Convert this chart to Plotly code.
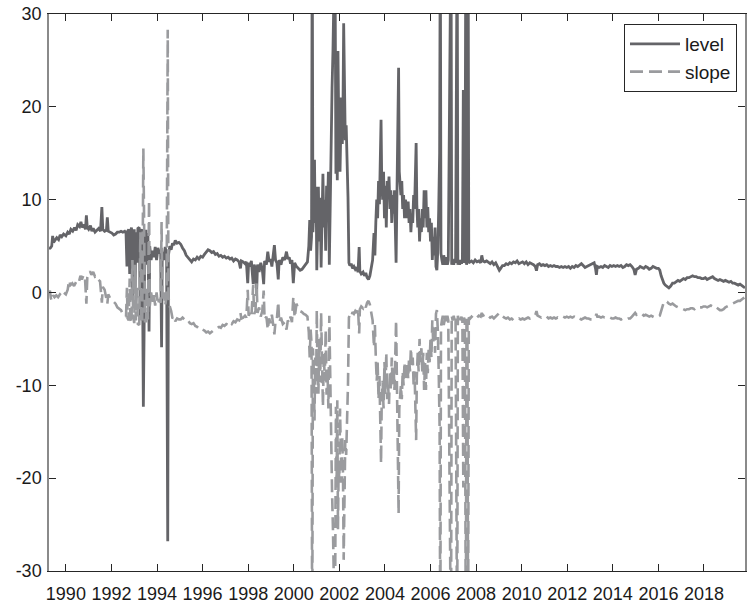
import plotly.graph_objects as go

level_series = [
    (1989.26, 4.7), (1989.32, 4.8), (1989.38, 5.0), (1989.42, 6.1), (1989.46, 5.4), (1989.52, 5.6),
    (1989.60, 5.9), (1989.68, 5.7), (1989.75, 6.2), (1989.82, 6.0), (1989.90, 6.3), (1990.00, 6.1),
    (1990.08, 6.5), (1990.15, 6.3), (1990.22, 6.8), (1990.30, 6.6), (1990.38, 7.0), (1990.45, 6.7),
    (1990.52, 7.3), (1990.60, 7.1), (1990.66, 7.6), (1990.72, 7.0), (1990.80, 7.3), (1990.86, 6.8),
    (1990.90, 8.3), (1990.94, 7.0), (1991.00, 6.8), (1991.08, 7.2), (1991.14, 6.6), (1991.20, 6.9),
    (1991.28, 6.5), (1991.36, 6.7), (1991.44, 6.9), (1991.52, 6.6), (1991.58, 9.2), (1991.62, 6.8),
    (1991.70, 6.6), (1991.78, 6.7), (1991.82, 8.1), (1991.86, 6.6), (1991.94, 6.5), (1992.02, 6.4),
    (1992.10, 6.2), (1992.18, 6.3), (1992.26, 6.5), (1992.34, 6.5), (1992.42, 6.6), (1992.50, 6.5),
    (1992.58, 6.6), (1992.64, 6.4), (1992.68, 2.8), (1992.71, 6.6), (1992.76, 6.8), (1992.80, 2.0),
    (1992.83, 6.5), (1992.88, 7.0), (1992.92, -0.5), (1992.95, 6.2), (1993.00, 6.8), (1993.04, 0.3),
    (1993.07, 6.5), (1993.12, 3.2), (1993.16, 6.9), (1993.22, 7.0), (1993.27, -3.0), (1993.30, 6.5),
    (1993.35, 6.8), (1993.40, -12.3), (1993.43, -5.0), (1993.47, 6.6), (1993.52, 6.6), (1993.56, 3.0),
    (1993.60, 6.4), (1993.65, -4.2), (1993.68, 5.0), (1993.74, 3.5), (1993.80, 4.5), (1993.86, 3.8),
    (1993.92, 4.9), (1993.98, 3.5), (1994.04, 4.8), (1994.10, 4.2), (1994.16, 4.6), (1994.20, -5.9),
    (1994.23, 4.4), (1994.30, 3.5), (1994.36, 4.9), (1994.42, 3.8), (1994.47, -26.8), (1994.50, 4.0),
    (1994.56, 5.0), (1994.62, 4.6), (1994.68, 5.3), (1994.74, 5.1), (1994.80, 5.6), (1994.88, 5.3),
    (1994.96, 5.4), (1995.04, 5.2), (1995.12, 4.8), (1995.20, 4.5), (1995.28, 4.0), (1995.36, 3.8),
    (1995.44, 3.5), (1995.52, 3.3), (1995.60, 3.6), (1995.68, 3.5), (1995.76, 3.8), (1995.84, 3.6),
    (1995.92, 3.9), (1996.00, 3.8), (1996.08, 4.1), (1996.16, 4.4), (1996.24, 4.6), (1996.32, 4.5),
    (1996.40, 4.3), (1996.48, 4.4), (1996.56, 4.1), (1996.64, 4.2), (1996.72, 3.9), (1996.80, 4.0),
    (1996.88, 3.8), (1996.96, 3.9), (1997.04, 3.7), (1997.12, 3.8), (1997.20, 3.6), (1997.28, 3.7),
    (1997.36, 3.4), (1997.44, 3.6), (1997.52, 3.5), (1997.60, 3.3), (1997.66, 2.6), (1997.70, 3.4),
    (1997.78, 3.3), (1997.86, 3.1), (1997.92, 3.3), (1997.98, 1.0), (1998.02, 3.2), (1998.08, 2.8),
    (1998.14, 3.4), (1998.22, 0.9), (1998.26, 3.0), (1998.32, 2.6), (1998.37, 0.0), (1998.41, 3.0),
    (1998.48, 2.2), (1998.55, 3.2), (1998.62, 2.5), (1998.68, 0.9), (1998.72, 3.4), (1998.80, 3.0),
    (1998.86, 4.4), (1998.92, 3.3), (1998.98, 3.6), (1999.04, 2.8), (1999.10, 3.9), (1999.15, 5.1),
    (1999.20, 3.5), (1999.26, 3.2), (1999.32, 1.4), (1999.36, 3.5), (1999.44, 3.0), (1999.52, 3.8),
    (1999.60, 3.5), (1999.68, 4.4), (1999.74, 3.6), (1999.80, 3.8), (1999.86, 3.1), (1999.92, 3.5),
    (1999.98, 1.0), (2000.04, 3.2), (2000.12, 2.8), (2000.20, 2.6), (2000.28, 2.4), (2000.36, 2.5),
    (2000.44, 2.8), (2000.52, 3.0), (2000.60, 3.3), (2000.66, 5.0), (2000.70, 7.8), (2000.74, 4.5),
    (2000.78, 6.0), (2000.81, 40.0), (2000.84, 6.5), (2000.88, 9.0), (2000.91, 14.3), (2000.94, 7.5),
    (2000.98, 11.4), (2001.01, 2.4), (2001.04, 9.0), (2001.08, 11.4), (2001.12, 5.5), (2001.16, 10.2),
    (2001.20, 2.7), (2001.24, 8.5), (2001.28, 12.8), (2001.32, 7.0), (2001.36, 10.0), (2001.40, 4.5),
    (2001.44, 11.5), (2001.48, 9.0), (2001.52, 13.0), (2001.56, 3.0), (2001.60, 10.5), (2001.64, 15.0),
    (2001.68, 22.0), (2001.72, 26.0), (2001.75, 33.0), (2001.78, 35.0), (2001.82, 30.5), (2001.85, 12.8),
    (2001.88, 21.5), (2001.91, 12.1), (2001.94, 26.0), (2001.97, 18.9), (2002.00, 21.0), (2002.03, 13.0),
    (2002.06, 17.0), (2002.10, 21.0), (2002.13, 16.0), (2002.16, 20.0), (2002.19, 29.0), (2002.22, 20.7),
    (2002.26, 16.4), (2002.30, 18.0), (2002.34, 15.0), (2002.38, 10.3), (2002.42, 3.2), (2002.46, 2.9),
    (2002.52, 3.1), (2002.58, 2.6), (2002.64, 2.8), (2002.70, 2.5), (2002.76, 2.7), (2002.82, 2.2),
    (2002.87, 4.9), (2002.90, 2.3), (2002.96, 2.0), (2003.04, 2.2), (2003.10, 1.8), (2003.16, 2.1),
    (2003.22, 1.6), (2003.28, 1.4), (2003.34, 1.8), (2003.40, 2.5), (2003.46, 3.5), (2003.52, 6.4),
    (2003.56, 4.0), (2003.60, 7.5), (2003.64, 10.0), (2003.68, 8.0), (2003.72, 12.0), (2003.76, 9.5),
    (2003.80, 14.5), (2003.83, 18.6), (2003.86, 12.0), (2003.90, 10.0), (2003.94, 13.0), (2003.98, 8.0),
    (2004.02, 11.5), (2004.06, 7.0), (2004.10, 12.0), (2004.14, 10.5), (2004.18, 12.5), (2004.22, 9.0),
    (2004.26, 11.0), (2004.30, 7.5), (2004.34, 10.5), (2004.38, 8.5), (2004.42, 11.0), (2004.46, 7.0),
    (2004.49, 3.2), (2004.52, 9.0), (2004.56, 15.0), (2004.60, 24.2), (2004.63, 13.0), (2004.66, 11.8),
    (2004.70, 10.5), (2004.74, 12.0), (2004.78, 9.0), (2004.82, 10.5), (2004.86, 8.0), (2004.90, 10.0),
    (2004.94, 9.5), (2004.98, 8.0), (2005.02, 9.8), (2005.06, 7.5), (2005.10, 9.0), (2005.14, 6.5),
    (2005.18, 8.5), (2005.22, 7.5), (2005.26, 10.5), (2005.30, 9.0), (2005.34, 12.0), (2005.37, 16.1),
    (2005.40, 9.5), (2005.44, 7.0), (2005.48, 9.0), (2005.52, 5.5), (2005.56, 8.0), (2005.60, 6.5),
    (2005.64, 9.0), (2005.68, 7.0), (2005.72, 11.0), (2005.76, 8.0), (2005.80, 11.0), (2005.84, 7.0),
    (2005.88, 9.2), (2005.92, 6.5), (2005.96, 8.0), (2006.00, 5.5), (2006.04, 7.5), (2006.08, 3.5),
    (2006.12, 6.0), (2006.16, 4.0), (2006.20, 7.0), (2006.24, 2.8), (2006.28, 2.4), (2006.32, 4.5),
    (2006.36, 9.0), (2006.40, 15.0), (2006.43, 40.0), (2006.46, 4.2), (2006.50, 3.5), (2006.54, 3.0),
    (2006.58, 4.0), (2006.62, 3.2), (2006.66, 3.0), (2006.70, 3.8), (2006.74, 3.0), (2006.78, 3.5),
    (2006.82, 20.0), (2006.86, 40.0), (2006.90, 40.0), (2006.93, 3.0), (2006.97, 3.5), (2007.02, 3.0),
    (2007.06, 3.6), (2007.10, 3.2), (2007.13, 40.0), (2007.17, 40.0), (2007.20, 3.0), (2007.24, 3.4),
    (2007.28, 3.0), (2007.32, 3.5), (2007.36, 3.1), (2007.40, 3.6), (2007.44, 21.8), (2007.47, 3.2),
    (2007.51, 3.5), (2007.55, 40.0), (2007.58, 3.0), (2007.62, 3.4), (2007.65, 40.0), (2007.68, 3.2),
    (2007.74, 3.3), (2007.80, 3.4), (2007.88, 3.2), (2007.96, 3.5), (2008.04, 3.3), (2008.12, 3.4),
    (2008.20, 3.2), (2008.25, 4.0), (2008.30, 3.4), (2008.38, 3.3), (2008.46, 3.4), (2008.54, 3.2),
    (2008.62, 3.1), (2008.70, 3.3), (2008.78, 3.0), (2008.86, 3.2), (2008.94, 2.8), (2009.02, 2.4),
    (2009.08, 2.6), (2009.16, 2.9), (2009.24, 2.9), (2009.32, 3.1), (2009.40, 3.0), (2009.48, 3.2),
    (2009.56, 3.1), (2009.64, 3.3), (2009.72, 3.2), (2009.80, 3.4), (2009.88, 3.1), (2009.96, 3.2),
    (2010.04, 3.3), (2010.12, 3.1), (2010.20, 3.3), (2010.28, 3.0), (2010.36, 3.2), (2010.44, 3.1),
    (2010.52, 3.0), (2010.60, 2.8), (2010.65, 2.35), (2010.70, 3.0), (2010.78, 3.1), (2010.86, 2.9),
    (2010.94, 3.0), (2011.02, 2.9), (2011.10, 3.0), (2011.18, 2.8), (2011.26, 2.9), (2011.34, 2.8),
    (2011.42, 2.9), (2011.50, 2.8), (2011.58, 2.8), (2011.66, 2.7), (2011.74, 2.8), (2011.82, 2.7),
    (2011.90, 2.8), (2011.98, 2.7), (2012.06, 2.8), (2012.14, 2.6), (2012.22, 2.8), (2012.30, 2.7),
    (2012.38, 2.9), (2012.46, 2.8), (2012.54, 3.0), (2012.62, 3.1), (2012.70, 2.9), (2012.78, 2.7),
    (2012.86, 2.8), (2012.94, 2.9), (2013.02, 3.0), (2013.10, 3.1), (2013.18, 3.2), (2013.24, 2.6),
    (2013.28, 1.9), (2013.32, 2.8), (2013.40, 2.7), (2013.48, 2.8), (2013.56, 2.7), (2013.64, 2.9),
    (2013.72, 2.8), (2013.80, 2.7), (2013.88, 2.9), (2013.96, 2.8), (2014.04, 2.9), (2014.12, 2.8),
    (2014.20, 2.9), (2014.28, 2.8), (2014.36, 2.9), (2014.44, 2.7), (2014.52, 2.8), (2014.60, 3.0),
    (2014.68, 2.9), (2014.76, 3.0), (2014.84, 2.8), (2014.92, 2.5), (2014.98, 1.9), (2015.04, 2.5),
    (2015.12, 2.6), (2015.20, 2.8), (2015.28, 2.7), (2015.36, 2.6), (2015.44, 2.8), (2015.52, 2.7),
    (2015.60, 2.5), (2015.68, 2.6), (2015.76, 2.8), (2015.84, 2.7), (2015.92, 2.6), (2016.00, 2.6),
    (2016.06, 2.4), (2016.12, 1.8), (2016.18, 1.3), (2016.24, 1.0), (2016.30, 0.8), (2016.38, 0.6),
    (2016.46, 0.5), (2016.54, 0.7), (2016.62, 1.0), (2016.70, 1.0), (2016.78, 1.2), (2016.86, 1.3),
    (2016.94, 1.2), (2017.02, 1.4), (2017.10, 1.5), (2017.18, 1.4), (2017.26, 1.6), (2017.34, 1.6),
    (2017.42, 1.7), (2017.50, 1.8), (2017.58, 1.7), (2017.66, 1.7), (2017.74, 1.6), (2017.82, 1.6),
    (2017.90, 1.5), (2017.98, 1.5), (2018.06, 1.6), (2018.14, 1.4), (2018.22, 1.5), (2018.30, 1.6),
    (2018.38, 1.7), (2018.46, 1.5), (2018.54, 1.4), (2018.62, 1.3), (2018.70, 1.4), (2018.78, 1.3),
    (2018.86, 1.2), (2018.94, 1.3), (2019.02, 1.2), (2019.10, 1.1), (2019.18, 1.2), (2019.26, 1.0),
    (2019.34, 1.0), (2019.42, 0.9), (2019.50, 0.8), (2019.58, 0.9), (2019.66, 0.7), (2019.74, 0.6),
    (2019.80, 0.5),
]

slope_series = [
    (1989.26, -0.2), (1989.30, 0.2), (1989.34, -0.6), (1989.38, -0.9), (1989.44, -0.3), (1989.50, -0.5),
    (1989.58, -0.3), (1989.66, -0.5), (1989.74, -0.2), (1989.82, -0.4), (1989.90, 0.0), (1990.00, -0.2),
    (1990.08, 0.3), (1990.14, 1.3), (1990.20, 0.8), (1990.28, 1.0), (1990.36, 0.7), (1990.42, 1.1),
    (1990.50, 1.4), (1990.58, 1.2), (1990.64, 1.8), (1990.70, 1.4), (1990.78, 1.9), (1990.84, 1.5),
    (1990.90, -1.2), (1990.94, 1.6), (1991.00, 2.0), (1991.06, 2.3), (1991.12, 1.9), (1991.20, 2.2),
    (1991.28, 1.7), (1991.36, 1.8), (1991.42, 1.4), (1991.50, 1.2), (1991.58, -1.1), (1991.62, 0.6),
    (1991.70, 0.3), (1991.76, -0.4), (1991.82, -1.2), (1991.86, -0.2), (1991.94, -0.6), (1992.02, -0.8),
    (1992.10, -1.0), (1992.18, -1.2), (1992.26, -1.6), (1992.34, -1.8), (1992.42, -1.9), (1992.50, -2.3),
    (1992.58, -2.5), (1992.64, -2.6), (1992.68, 0.5), (1992.71, -2.8), (1992.76, -3.0), (1992.80, 1.5),
    (1992.83, -2.8), (1992.88, -3.3), (1992.92, 3.5), (1992.95, -2.5), (1993.00, -3.3), (1993.04, 3.0),
    (1993.07, -3.0), (1993.12, 0.5), (1993.16, -3.4), (1993.22, -3.5), (1993.27, 6.5), (1993.30, -3.0),
    (1993.35, -3.3), (1993.40, 15.5), (1993.43, 8.5), (1993.47, -3.1), (1993.52, -3.1), (1993.56, 0.5),
    (1993.60, -2.9), (1993.65, 9.9), (1993.68, -1.5), (1993.74, 0.0), (1993.80, -1.0), (1993.86, -0.3),
    (1993.92, -1.4), (1993.98, 0.0), (1994.04, -1.3), (1994.10, -0.7), (1994.16, -1.1), (1994.20, 7.6),
    (1994.23, -0.9), (1994.30, 0.0), (1994.36, -1.4), (1994.42, -0.3), (1994.47, 28.3), (1994.50, -0.5),
    (1994.56, -1.5), (1994.62, -2.0), (1994.68, -2.8), (1994.74, -2.6), (1994.80, -3.1), (1994.88, -2.8),
    (1994.96, -2.9), (1995.04, -2.9), (1995.12, -2.7), (1995.20, -2.9), (1995.28, -3.1), (1995.36, -3.0),
    (1995.44, -3.3), (1995.52, -3.4), (1995.60, -3.3), (1995.68, -3.6), (1995.76, -3.7), (1995.84, -3.9),
    (1995.92, -3.8), (1996.00, -4.0), (1996.08, -4.1), (1996.16, -4.3), (1996.24, -4.2), (1996.32, -4.4),
    (1996.40, -4.2), (1996.48, -4.1), (1996.56, -3.9), (1996.64, -3.8), (1996.72, -3.7), (1996.80, -3.8),
    (1996.88, -3.5), (1996.96, -3.6), (1997.04, -3.4), (1997.12, -3.5), (1997.20, -3.2), (1997.28, -3.4),
    (1997.36, -3.1), (1997.44, -3.2), (1997.52, -2.9), (1997.60, -3.0), (1997.66, -2.2), (1997.70, -2.8),
    (1997.78, -2.7), (1997.86, -2.5), (1997.92, -2.7), (1997.98, 0.3), (1998.02, -2.5), (1998.08, -2.2),
    (1998.14, -2.6), (1998.22, 0.8), (1998.26, -2.3), (1998.32, -2.0), (1998.37, 1.0), (1998.41, -2.2),
    (1998.48, -1.6), (1998.55, -2.6), (1998.62, -2.0), (1998.68, 0.2), (1998.72, -2.9), (1998.80, -2.6),
    (1998.86, -4.0), (1998.92, -2.8), (1998.98, -3.3), (1999.04, -2.4), (1999.10, -3.5), (1999.15, -4.5),
    (1999.20, -3.1), (1999.26, -2.8), (1999.32, -1.0), (1999.36, -3.2), (1999.44, -2.7), (1999.52, -3.4),
    (1999.60, -3.2), (1999.68, -4.0), (1999.74, -3.0), (1999.80, -3.3), (1999.86, -2.6), (1999.92, -3.2),
    (1999.98, -0.5), (2000.04, -2.7), (2000.12, -1.2), (2000.20, -1.8), (2000.28, -2.0), (2000.36, -2.1),
    (2000.44, -2.3), (2000.52, -2.4), (2000.60, -2.6), (2000.66, -4.3), (2000.70, -7.0), (2000.74, -4.0),
    (2000.78, -5.5), (2000.81, -40.0), (2000.84, -6.0), (2000.88, -8.5), (2000.91, -13.8), (2000.94, -7.0),
    (2000.98, -10.9), (2001.01, -1.9), (2001.04, -8.5), (2001.08, -10.9), (2001.12, -5.0), (2001.16, -9.7),
    (2001.20, -2.2), (2001.24, -8.0), (2001.28, -12.3), (2001.32, -6.5), (2001.36, -9.5), (2001.40, -4.0),
    (2001.44, -11.0), (2001.48, -8.5), (2001.52, -12.5), (2001.56, -2.5), (2001.60, -10.0), (2001.64, -14.5),
    (2001.68, -21.5), (2001.72, -25.5), (2001.75, -32.0), (2001.78, -34.0), (2001.82, -30.0), (2001.85, -12.3),
    (2001.88, -21.0), (2001.91, -11.6), (2001.94, -25.5), (2001.97, -18.4), (2002.00, -20.5), (2002.03, -12.5),
    (2002.06, -16.5), (2002.10, -20.5), (2002.13, -15.5), (2002.16, -19.5), (2002.19, -28.8), (2002.22, -20.2),
    (2002.26, -15.9), (2002.30, -17.5), (2002.34, -14.5), (2002.38, -9.8), (2002.42, -2.7), (2002.46, -2.4),
    (2002.52, -2.6), (2002.58, -2.1), (2002.64, -2.3), (2002.70, -2.0), (2002.76, -2.2), (2002.82, -1.7),
    (2002.87, -4.4), (2002.90, -1.8), (2002.96, -1.5), (2003.04, -1.7), (2003.10, -1.3), (2003.16, -1.6),
    (2003.22, -1.1), (2003.28, -0.9), (2003.34, -1.3), (2003.40, -2.0), (2003.46, -3.0), (2003.52, -5.9),
    (2003.56, -3.5), (2003.60, -7.0), (2003.64, -9.5), (2003.68, -7.5), (2003.72, -11.5), (2003.76, -9.0),
    (2003.80, -14.0), (2003.83, -18.4), (2003.86, -11.5), (2003.90, -9.5), (2003.94, -12.5), (2003.98, -7.5),
    (2004.02, -11.0), (2004.06, -6.5), (2004.10, -11.5), (2004.14, -10.0), (2004.18, -12.0), (2004.22, -8.5),
    (2004.26, -10.5), (2004.30, -7.0), (2004.34, -10.0), (2004.38, -8.0), (2004.42, -10.5), (2004.46, -6.5),
    (2004.49, -3.0), (2004.52, -8.5), (2004.56, -14.5), (2004.60, -23.8), (2004.63, -12.5), (2004.66, -11.3),
    (2004.70, -10.0), (2004.74, -11.5), (2004.78, -8.5), (2004.82, -10.0), (2004.86, -7.5), (2004.90, -9.5),
    (2004.94, -9.0), (2004.98, -7.5), (2005.02, -9.3), (2005.06, -7.0), (2005.10, -8.5), (2005.14, -6.0),
    (2005.18, -8.0), (2005.22, -7.0), (2005.26, -10.0), (2005.30, -8.5), (2005.34, -11.5), (2005.37, -15.9),
    (2005.40, -9.0), (2005.44, -6.5), (2005.48, -8.5), (2005.52, -5.0), (2005.56, -7.5), (2005.60, -6.0),
    (2005.64, -8.5), (2005.68, -6.5), (2005.72, -10.5), (2005.76, -7.5), (2005.80, -10.5), (2005.84, -6.5),
    (2005.88, -8.7), (2005.92, -6.0), (2005.96, -7.5), (2006.00, -5.0), (2006.04, -7.0), (2006.08, -3.0),
    (2006.12, -5.5), (2006.16, -3.5), (2006.20, -6.5), (2006.24, -2.3), (2006.28, -1.9), (2006.32, -4.0),
    (2006.36, -8.5), (2006.40, -14.5), (2006.43, -40.0), (2006.46, -3.7), (2006.50, -3.0), (2006.54, -2.5),
    (2006.58, -3.5), (2006.62, -2.7), (2006.66, -2.5), (2006.70, -3.3), (2006.74, -2.5), (2006.78, -3.0),
    (2006.82, -19.5), (2006.86, -40.0), (2006.90, -40.0), (2006.93, -2.5), (2006.97, -3.0), (2007.02, -2.5),
    (2007.06, -3.1), (2007.10, -2.7), (2007.13, -40.0), (2007.17, -40.0), (2007.20, -2.5), (2007.24, -2.9),
    (2007.28, -2.5), (2007.32, -3.0), (2007.36, -2.6), (2007.40, -3.1), (2007.44, -21.0), (2007.47, -2.7),
    (2007.51, -3.0), (2007.55, -40.0), (2007.58, -2.5), (2007.62, -2.9), (2007.65, -40.0), (2007.68, -2.7),
    (2007.74, -2.8), (2007.80, -2.6), (2007.88, -2.8), (2007.96, -2.6), (2008.04, -2.7), (2008.12, -2.5),
    (2008.20, -2.6), (2008.25, -2.2), (2008.30, -2.5), (2008.38, -2.4), (2008.46, -2.6), (2008.54, -2.5),
    (2008.62, -2.7), (2008.70, -2.6), (2008.78, -2.8), (2008.86, -2.6), (2008.94, -2.4), (2009.02, -2.2),
    (2009.08, -2.4), (2009.16, -2.6), (2009.24, -2.7), (2009.32, -2.8), (2009.40, -2.7), (2009.48, -2.9),
    (2009.56, -2.8), (2009.64, -3.0), (2009.72, -3.0), (2009.80, -2.9), (2009.88, -2.8), (2009.96, -2.9),
    (2010.04, -2.8), (2010.12, -2.9), (2010.20, -2.8), (2010.28, -2.7), (2010.36, -2.8), (2010.44, -2.7),
    (2010.52, -2.6), (2010.60, -2.4), (2010.65, -2.0), (2010.70, -2.5), (2010.78, -2.6), (2010.86, -2.7),
    (2010.94, -2.6), (2011.02, -2.7), (2011.10, -2.6), (2011.18, -2.8), (2011.26, -2.7), (2011.34, -2.8),
    (2011.42, -2.7), (2011.50, -2.8), (2011.58, -2.7), (2011.66, -2.8), (2011.74, -2.7), (2011.82, -2.6),
    (2011.90, -2.7), (2011.98, -2.6), (2012.06, -2.7), (2012.14, -2.6), (2012.22, -2.7), (2012.30, -2.6),
    (2012.38, -2.7), (2012.46, -2.6), (2012.54, -2.8), (2012.62, -2.9), (2012.70, -2.8), (2012.78, -2.7),
    (2012.86, -2.8), (2012.94, -2.8), (2013.02, -2.9), (2013.10, -2.9), (2013.18, -2.8), (2013.24, -2.6),
    (2013.28, -2.3), (2013.32, -2.6), (2013.40, -2.6), (2013.48, -2.7), (2013.56, -2.6), (2013.64, -2.7),
    (2013.72, -2.7), (2013.80, -2.8), (2013.88, -2.7), (2013.96, -2.8), (2014.04, -2.8), (2014.12, -2.7),
    (2014.20, -2.8), (2014.28, -2.8), (2014.36, -2.9), (2014.44, -2.8), (2014.52, -2.9), (2014.60, -2.9),
    (2014.68, -2.8), (2014.76, -2.8), (2014.84, -2.6), (2014.92, -2.4), (2014.98, -2.2), (2015.04, -2.4),
    (2015.12, -2.3), (2015.20, -2.4), (2015.28, -2.3), (2015.36, -2.5), (2015.44, -2.4), (2015.52, -2.5),
    (2015.60, -2.6), (2015.68, -2.5), (2015.76, -2.6), (2015.84, -2.7), (2015.92, -2.6), (2016.00, -2.6),
    (2016.06, -2.5), (2016.12, -2.0), (2016.18, -1.3), (2016.24, -1.0), (2016.30, -0.9), (2016.38, -1.0),
    (2016.46, -1.2), (2016.54, -1.3), (2016.62, -1.2), (2016.70, -1.4), (2016.78, -1.5), (2016.86, -1.6),
    (2016.94, -1.7), (2017.02, -1.7), (2017.10, -1.8), (2017.18, -1.9), (2017.26, -1.8), (2017.34, -1.8),
    (2017.42, -1.7), (2017.50, -1.7), (2017.58, -1.8), (2017.66, -1.6), (2017.74, -1.7), (2017.82, -1.6),
    (2017.90, -1.6), (2017.98, -1.5), (2018.06, -1.5), (2018.14, -1.6), (2018.22, -1.5), (2018.30, -1.4),
    (2018.38, -1.5), (2018.46, -1.4), (2018.54, -1.6), (2018.62, -1.8), (2018.70, -1.9), (2018.78, -1.9),
    (2018.86, -1.8), (2018.94, -1.6), (2019.02, -1.5), (2019.10, -1.4), (2019.18, -1.3), (2019.26, -1.2),
    (2019.34, -1.1), (2019.42, -1.0), (2019.50, -0.9), (2019.58, -0.9), (2019.66, -0.7), (2019.74, -0.6),
    (2019.80, -0.5),
]

level_years = [t for t, _ in level_series]
level_values = [v for _, v in level_series]
slope_years = [t for t, _ in slope_series]
slope_values = [v for _, v in slope_series]

x_tick_years = list(range(1990, 2019, 2))
x_tick_labels = [str(y) for y in x_tick_years]
y_tick_values = [-30, -20, -10, 0, 10, 20, 30]
y_tick_labels = ["-30", "-20", "-10", "0", "10", "20", "30"]

LEVEL_COLOR = "#646468"
SLOPE_COLOR = "#9a9b9e"
AXIS_COLOR = "#262626"
TEXT_COLOR = "#1a1a1a"
FONT = "Liberation Sans, Arial, sans-serif"

fig = go.Figure()
fig.add_trace(go.Scatter(
    x=level_years, y=level_values, mode="lines", name="level",
    line=dict(color=LEVEL_COLOR, width=2.8),
))
fig.add_trace(go.Scatter(
    x=slope_years, y=slope_values, mode="lines", name="slope",
    line=dict(color=SLOPE_COLOR, width=2.6, dash="13px,6px"),
))

fig.update_layout(
    width=748, height=606,
    margin=dict(l=49, r=1, t=14, b=35),
    paper_bgcolor="white", plot_bgcolor="white",
    font=dict(family=FONT, size=18, color=TEXT_COLOR),
    showlegend=True,
    legend=dict(
        x=0.9885, y=0.982, xanchor="right", yanchor="top",
        bgcolor="white", bordercolor=AXIS_COLOR, borderwidth=1,
        font=dict(family=FONT, size=19, color=TEXT_COLOR),
        itemwidth=50, tracegroupgap=0,
    ),
    hovermode=False,
)
fig.update_xaxes(
    range=[1989.26, 2019.8],
    tickmode="array", tickvals=x_tick_years, ticktext=x_tick_labels,
    ticks="inside", ticklen=7, tickwidth=1, tickcolor=AXIS_COLOR,
    showline=True, linecolor=AXIS_COLOR, linewidth=1, mirror="ticks",
    showgrid=False, zeroline=False, ticklabelstandoff=6,
    tickfont=dict(family=FONT, size=18, color=TEXT_COLOR),
)
fig.update_yaxes(
    range=[-30, 30],
    tickmode="array", tickvals=y_tick_values, ticktext=y_tick_labels,
    ticks="inside", ticklen=7, tickwidth=1, tickcolor=AXIS_COLOR,
    showline=True, linecolor="#8a8a8a", linewidth=1.5, mirror="ticks",
    showgrid=False, zeroline=False, ticklabelstandoff=2,
    tickfont=dict(family=FONT, size=18, color=TEXT_COLOR),
)

fig.write_html("out.html")
